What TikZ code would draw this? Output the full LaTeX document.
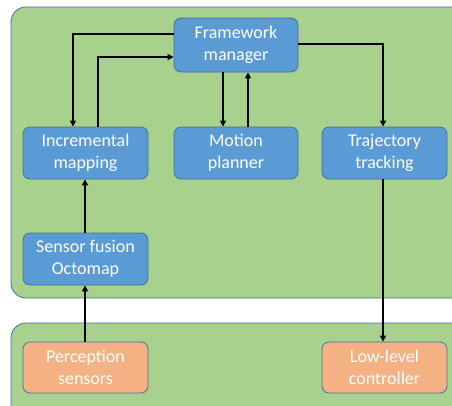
\documentclass[tikz,border=0pt]{standalone}
\usepackage{fontspec}
\setmainfont{Carlito}
\usetikzlibrary{arrows.meta}
\definecolor{panelgreen}{HTML}{A9D18E}
\definecolor{edgeblue}{HTML}{41719C}
\definecolor{boxblue}{HTML}{5B9BD5}
\definecolor{boxorange}{HTML}{F4B183}
\begin{document}
\begin{tikzpicture}[x=1pt,y=-1pt,
  panel/.style={fill=panelgreen,draw=edgeblue,line width=0.8pt,rounded corners=15pt},
  blk/.style={draw=edgeblue,line width=0.8pt,rounded corners=7pt,text=white,align=center,
    font=\fontsize{18}{22}\selectfont,inner sep=0pt},
  bluebox/.style={blk,fill=boxblue},
  orangebox/.style={blk,fill=boxorange},
  conn/.style={line width=1.9pt,-{Triangle[length=6pt,width=6pt]}}]
\useasboundingbox (0,0) rectangle (452,405);
\path[panel] (11,7) rectangle (470,298);
\path[panel] (11,323) rectangle (470,430);
% boxes
\node[bluebox,minimum width=124pt,minimum height=54pt] (fm) at (236,45) {Framework\\manager};
\node[bluebox,minimum width=125pt,minimum height=52pt] (im) at (85.5,153) {Incremental\\mapping};
\node[bluebox,minimum width=124pt,minimum height=52pt] (mp) at (236,153) {Motion\\planner};
\node[bluebox,minimum width=125pt,minimum height=52pt] (tt) at (384.5,153) {Trajectory\\tracking};
\node[bluebox,minimum width=125pt,minimum height=52pt] (sf) at (85.5,259) {Sensor fusion\\Octomap};
\node[orangebox,minimum width=125pt,minimum height=51pt] (ps) at (85.5,367.5) {Perception\\sensors};
\node[orangebox,minimum width=125pt,minimum height=51pt] (ll) at (384.5,367.5) {Low-level\\controller};
% connectors
\coordinate (a1) at (73,34);
\coordinate (a2) at (98,57);
\coordinate (a3) at (383,44);
\coordinate (a4) at (85,0);
\draw[conn] (fm.west |- a1) -| (a1 |- im.north);
\draw[conn] (a2 |- im.north) |- (fm.west |- a2);
\draw[conn] (223,0 |- fm.south) -- (223,0 |- mp.north);
\draw[conn] (248,0 |- mp.north) -- (248,0 |- fm.south);
\draw[conn] (fm.east |- a3) -| (a3 |- tt.north);
\draw[conn] (tt.south -| a3) -- (ll.north -| a3);
\draw[conn] (sf.north -| a4) -- (im.south -| a4);
\draw[conn] (ps.north -| a4) -- (sf.south -| a4);
\end{tikzpicture}
\end{document}
